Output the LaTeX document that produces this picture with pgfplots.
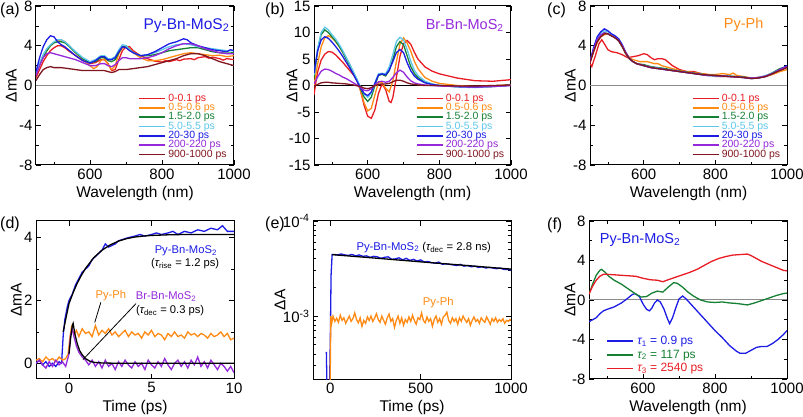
\documentclass[border=0pt]{standalone}
\usepackage{fontspec}
\setmainfont{Liberation Sans}
\usepackage{pgfplots}
\pgfplotsset{compat=1.18}
\definecolor{cR}{RGB}{232,28,36}
\definecolor{cO}{RGB}{255,138,20}
\definecolor{cG}{RGB}{22,128,52}
\definecolor{cC}{RGB}{92,198,235}
\definecolor{cB}{RGB}{28,28,228}
\definecolor{cP}{RGB}{148,40,218}
\definecolor{cD}{RGB}{128,22,32}
\definecolor{zgray}{RGB}{140,140,140}
\newcommand{\fs}[1]{\fontsize{#1}{#1}\selectfont}
\pgfplotsset{
  panel/.style={
    scale only axis, width=198pt, height=159pt,
    tick align=inside, tick pos=both,
    xticklabel pos=lower, yticklabel pos=left,
    major tick length=5pt, minor tick length=3pt,
    tick style={black, line width=0.7pt},
    axis line style={line width=1pt},
    ticklabel style={font=\fs{15}},
    label style={font=\fs{15.5}},
    /pgf/number format/assume math mode=true,
    /pgf/number format/1000 sep={},
    every axis plot/.append style={line width=1.3pt},
    legend image code/.code={\draw[#1, line width=1.7pt] (0pt,0pt) -- (26pt,0pt);},
  },
  ylab/.style={ylabel style={at={(axis description cs:#1,0.5)}, anchor=center}},
  spec/.style={panel, xmin=450, xmax=1000, xtick={600,800,1000}, minor xtick={500,700,900}, xlabel={Wavelength (nm)}, ylabel={ΔmA}},
  tleg/.style={legend cell align=left, legend style={at={(0.515,0.447)}, anchor=north west, draw=none, fill=none, inner sep=0pt, font=\fs{10.5}, row sep=0.4pt, nodes={inner sep=0.4pt, text height=6.8pt, text depth=1.3pt}, /tikz/column 1/.style={column sep=2pt}}},
}
\begin{document}
\begin{tikzpicture}
% (a)
\begin{axis}[spec, ylab=-0.125, at={(36pt,252pt)}, ymin=-8, ymax=8, ytick={-8,-4,0,4,8}, minor ytick={-6,-2,2,6}, tleg]
\addplot[zgray, line width=1pt, forget plot] coordinates {(450,0)(1000,0)};
\addplot[cR] coordinates {(450,0.8)(460,1.6)(470,2.4)(480,3.0)(490,3.5)(500,3.8)(510,4.0)(520,4.0)(530,3.8)(540,3.5)(560,3.0)(580,2.5)(600,2.2)(615,2.3)(630,2.6)(640,2.6)(650,2.2)(660,1.5)(670,1.6)(680,2.6)(690,3.5)(700,3.9)(710,3.9)(720,3.5)(740,3.0)(760,2.7)(780,2.45)(800,2.35)(810,2.5)(820,2.4)(840,2.6)(850,2.5)(860,2.65)(880,2.7)(890,2.6)(900,2.8)(920,2.9)(930,2.75)(940,2.85)(960,2.7)(970,2.55)(980,2.7)(1000,2.6)};
\addlegendentry{\textcolor{cR}{0-0.1 ps}}
\addplot[cO] coordinates {(450,1.1)(460,2.0)(470,2.8)(480,3.5)(490,4.0)(500,4.3)(510,4.5)(520,4.6)(530,4.4)(540,4.1)(560,3.3)(580,2.6)(600,2.0)(610,1.7)(620,1.9)(630,2.5)(640,2.7)(650,2.1)(660,1.6)(670,2.0)(680,3.2)(690,3.8)(700,4.0)(710,3.7)(720,3.3)(740,2.8)(760,2.5)(780,2.5)(800,2.6)(820,2.8)(840,3.0)(860,3.2)(880,3.3)(900,3.2)(920,3.1)(940,3.0)(960,3.05)(980,2.9)(1000,3.0)};
\addlegendentry{\textcolor{cO}{0.5-0.6 ps}}
\addplot[cG] coordinates {(450,1.2)(460,2.1)(470,2.9)(480,3.5)(490,4.0)(500,4.3)(510,4.4)(520,4.4)(530,4.3)(540,4.0)(560,3.3)(580,2.7)(600,2.3)(615,2.4)(630,2.8)(640,2.8)(650,2.5)(660,2.4)(670,2.6)(680,3.3)(690,3.9)(700,4.0)(710,3.6)(720,3.3)(740,3.0)(760,3.0)(780,3.1)(800,3.3)(820,3.5)(840,3.6)(860,3.7)(880,3.8)(900,3.8)(920,3.6)(940,3.4)(960,3.3)(980,3.25)(1000,3.3)};
\addlegendentry{\textcolor{cG}{1.5-2.0 ps}}
\addplot[cC] coordinates {(450,1.3)(460,2.3)(470,3.1)(480,3.7)(490,4.1)(500,4.4)(510,4.6)(520,4.6)(530,4.4)(540,4.1)(560,3.4)(580,2.8)(600,2.4)(615,2.6)(630,3.0)(640,3.0)(650,2.7)(660,2.7)(670,2.9)(680,3.6)(690,4.1)(700,4.0)(710,3.6)(720,3.3)(740,3.0)(760,3.1)(780,3.3)(800,3.6)(820,3.9)(840,4.1)(860,4.2)(880,4.1)(900,3.9)(920,3.8)(940,3.7)(960,3.6)(980,3.5)(1000,3.5)};
\addlegendentry{\textcolor{cC}{5.0-5.5 ps}}
\addplot[cB] coordinates {(450,1.4)(460,2.8)(470,3.9)(480,4.6)(490,5.0)(500,4.9)(510,4.4)(520,4.1)(530,3.9)(540,3.6)(560,3.0)(580,2.5)(600,2.25)(615,2.5)(630,2.9)(640,2.9)(650,2.6)(660,2.6)(670,2.8)(680,3.4)(690,3.9)(700,3.8)(710,3.5)(720,3.3)(740,3.0)(760,3.1)(780,3.4)(800,3.8)(820,4.2)(840,4.4)(860,4.7)(870,4.6)(880,4.3)(900,4.0)(920,3.8)(940,3.6)(960,3.5)(980,3.4)(990,3.6)(1000,3.5)};
\addlegendentry{\textcolor{cB}{20-30 ps}}
\addplot[cP] coordinates {(450,1.0)(460,2.0)(470,2.8)(480,3.2)(490,3.3)(500,3.2)(510,3.1)(520,3.0)(530,2.9)(540,2.8)(560,2.6)(580,2.3)(600,2.0)(615,2.0)(630,2.2)(640,2.2)(650,2.0)(660,1.9)(670,2.1)(680,2.5)(690,2.8)(700,2.8)(710,2.7)(720,2.7)(740,2.7)(760,2.8)(780,3.0)(800,3.3)(820,3.7)(840,4.0)(860,4.2)(880,4.2)(900,4.0)(920,3.7)(940,3.5)(960,3.3)(980,3.2)(1000,3.2)};
\addlegendentry{\textcolor{cP}{200-220 ps}}
\addplot[cD] coordinates {(450,0.5)(460,1.1)(470,1.6)(480,1.8)(490,1.9)(500,1.8)(520,1.8)(540,1.7)(560,1.6)(580,1.5)(600,1.5)(620,1.5)(640,1.5)(650,1.4)(660,1.3)(670,1.4)(680,1.6)(700,1.6)(720,1.7)(740,1.8)(760,1.9)(780,2.1)(800,2.3)(820,2.5)(840,2.7)(860,3.0)(880,3.2)(900,3.2)(920,3.0)(940,2.7)(960,2.4)(980,2.2)(1000,2.0)};
\addlegendentry{\textcolor{cD}{900-1000 ps}}
\node[cB, font=\fs{15.5}] at (rel axis cs:0.76,0.877) {Py-Bn-MoS\textsubscript{2}};
\end{axis}
% (b)
\begin{axis}[spec, ylab=-0.112, at={(314pt,252pt)}, width=197pt, ymin=-15, ymax=15, ytick={-15,-10,-5,0,5,10,15}, tleg]
\addplot[black, line width=0.8pt, forget plot] coordinates {(450,0)(1000,0)};
\addplot[cR] coordinates {(450,-1.8)(455,0.5)(460,2.5)(470,4.8)(480,5.9)(490,6.4)(500,6.3)(510,5.8)(520,5.1)(530,4.4)(540,3.6)(550,2.8)(560,2.0)(570,1.0)(580,-1.0)(590,-3.8)(600,-5.8)(610,-6.2)(620,-4.6)(630,-1.5)(640,0.3)(650,-0.8)(660,-3.0)(665,-3.2)(670,-2.3)(680,1.5)(690,5.5)(700,7.9)(710,8.5)(720,7.8)(730,6.3)(740,5.0)(760,3.5)(780,2.7)(800,2.2)(850,1.4)(900,0.9)(950,0.8)(1000,1.1)};
\addlegendentry{\textcolor{cR}{0-0.1 ps}}
\addplot[cO] coordinates {(450,0.0)(460,4.0)(470,7.3)(480,9.0)(490,9.4)(500,9.0)(510,8.3)(520,7.4)(530,6.3)(540,5.1)(550,3.8)(560,2.5)(570,1.0)(580,-1.0)(590,-3.3)(600,-4.8)(610,-4.3)(620,-1.8)(630,0.6)(640,0.5)(650,-0.5)(660,-1.2)(670,0.8)(680,4.5)(690,7.8)(700,9.0)(710,8.0)(720,6.5)(730,4.6)(740,3.2)(760,1.5)(780,0.8)(800,0.4)(850,0.0)(900,-0.2)(950,-0.1)(1000,0.2)};
\addlegendentry{\textcolor{cO}{0.5-0.6 ps}}
\addplot[cG] coordinates {(450,1.5)(460,6.5)(470,9.6)(480,10.5)(490,10.0)(500,9.2)(510,8.4)(520,7.4)(530,6.3)(540,5.0)(550,3.8)(560,2.4)(570,1.0)(580,-0.6)(590,-2.2)(600,-3.0)(610,-2.2)(620,0.0)(630,1.9)(640,2.1)(650,1.8)(660,2.8)(670,4.9)(680,7.3)(690,8.3)(700,7.7)(710,5.6)(720,3.6)(730,2.3)(740,1.5)(760,0.6)(780,0.2)(800,0.0)(850,-0.2)(900,-0.3)(950,-0.2)(1000,0.1)};
\addlegendentry{\textcolor{cG}{1.5-2.0 ps}}
\addplot[cC] coordinates {(450,2.0)(460,7.0)(470,10.0)(480,11.0)(490,10.5)(500,9.6)(510,8.8)(520,7.8)(530,6.6)(540,5.3)(550,4.0)(560,2.6)(570,1.2)(580,-0.3)(590,-1.6)(600,-2.2)(610,-1.5)(620,0.5)(630,2.2)(640,2.3)(650,2.2)(660,3.5)(670,5.8)(680,8.3)(690,9.1)(700,8.6)(710,6.8)(720,4.6)(730,2.9)(740,1.9)(760,0.8)(780,0.3)(800,0.0)(850,-0.3)(900,-0.4)(950,-0.2)(1000,0.1)};
\addlegendentry{\textcolor{cC}{5.0-5.5 ps}}
\addplot[cB] coordinates {(450,2.3)(460,6.5)(470,8.6)(480,9.2)(490,8.9)(500,8.2)(510,7.4)(520,6.5)(530,5.5)(540,4.4)(550,3.3)(560,2.1)(570,0.8)(580,-0.5)(590,-1.5)(600,-1.9)(610,-1.2)(620,0.4)(630,2.0)(640,2.2)(650,2.0)(660,2.9)(670,4.5)(680,6.2)(690,6.8)(700,6.2)(710,4.3)(720,2.8)(730,1.8)(740,1.2)(760,0.5)(780,0.2)(800,0.0)(850,-0.2)(900,-0.3)(950,-0.1)(1000,0.0)};
\addlegendentry{\textcolor{cB}{20-30 ps}}
\addplot[cP] coordinates {(450,0.3)(460,1.6)(470,2.7)(480,3.1)(490,3.0)(500,2.7)(510,2.3)(520,2.0)(530,1.6)(540,1.3)(550,0.9)(560,0.5)(570,0.1)(580,-0.4)(590,-0.9)(600,-1.0)(610,-0.6)(620,0.1)(630,0.7)(640,0.8)(650,0.6)(660,0.8)(670,1.5)(680,2.4)(690,2.9)(700,2.5)(710,1.6)(720,0.9)(730,0.5)(740,0.3)(760,0.1)(780,0.0)(800,-0.1)(850,-0.2)(900,-0.3)(950,-0.2)(1000,0.0)};
\addlegendentry{\textcolor{cP}{200-220 ps}}
\addplot[cD] coordinates {(450,-0.2)(460,0.2)(470,0.5)(480,0.6)(490,0.6)(500,0.5)(520,0.4)(540,0.3)(560,0.1)(580,-0.2)(590,-0.5)(600,-0.6)(610,-0.4)(620,0.0)(630,0.2)(640,0.3)(650,0.3)(660,0.4)(670,0.7)(680,1.0)(690,1.0)(700,0.8)(710,0.5)(720,0.3)(740,0.1)(760,0.0)(800,0.0)(850,-0.1)(900,-0.1)(950,0.0)(1000,0.1)};
\addlegendentry{\textcolor{cD}{900-1000 ps}}
\node[cP, font=\fs{14.5}] at (rel axis cs:0.765,0.877) {Br-Bn-MoS\textsubscript{2}};
\end{axis}
% (c)
\begin{axis}[spec, ylab=-0.10, at={(590pt,252pt)}, width=197pt, ymin=-8, ymax=8, ytick={-8,-4,0,4,8}, minor ytick={-6,-2,2,6}, tleg]
\addplot[zgray, line width=1pt, forget plot] coordinates {(450,0)(1000,0)};
\addplot[cR] coordinates {(450,2.2)(455,1.9)(465,3.0)(475,4.2)(483,4.6)(490,4.2)(500,3.6)(510,3.4)(525,3.3)(540,3.1)(555,2.8)(570,2.9)(585,3.0)(600,3.2)(610,3.1)(620,2.8)(630,2.6)(640,2.7)(650,2.7)(660,2.6)(670,2.3)(680,2.0)(690,1.8)(700,1.6)(720,1.4)(740,1.4)(760,1.2)(780,1.1)(800,0.9)(820,0.9)(840,0.9)(860,0.9)(880,0.8)(900,0.7)(920,0.8)(940,0.9)(960,1.2)(980,1.5)(1000,1.9)};
\addlegendentry{\textcolor{cR}{0-0.1 ps}}
\addplot[cO] coordinates {(450,2.3)(460,3.4)(470,4.3)(480,4.9)(490,5.1)(500,5.2)(510,5.0)(520,4.8)(530,4.5)(540,4.0)(550,3.3)(560,2.8)(570,2.6)(580,2.5)(590,2.4)(600,2.4)(610,2.4)(620,2.3)(630,2.2)(640,2.2)(650,2.0)(660,1.9)(680,1.7)(700,1.5)(720,1.4)(740,1.3)(760,1.2)(780,1.1)(800,1.1)(820,1.2)(840,1.1)(850,1.25)(860,1.0)(880,0.9)(900,0.75)(920,0.8)(940,0.9)(960,1.1)(980,1.4)(1000,1.6)};
\addlegendentry{\textcolor{cO}{0.5-0.6 ps}}
\addplot[cG] coordinates {(450,2.4)(460,3.6)(470,4.6)(480,5.1)(490,5.3)(500,5.2)(510,5.0)(520,4.8)(530,4.5)(540,3.9)(550,3.2)(560,2.7)(570,2.4)(580,2.2)(600,2.1)(620,1.9)(640,1.8)(660,1.7)(680,1.55)(700,1.45)(720,1.35)(740,1.25)(760,1.15)(780,1.05)(800,1.0)(820,0.95)(840,0.95)(860,0.9)(880,0.85)(900,0.75)(920,0.8)(940,0.95)(960,1.3)(980,1.7)(1000,1.9)};
\addlegendentry{\textcolor{cG}{1.5-2.0 ps}}
\addplot[cC] coordinates {(450,2.4)(460,3.7)(470,4.7)(480,5.3)(490,5.5)(500,5.4)(510,5.1)(520,4.9)(530,4.6)(540,4.0)(550,3.3)(560,2.7)(570,2.4)(580,2.2)(600,2.0)(620,1.85)(640,1.75)(660,1.6)(680,1.5)(700,1.4)(720,1.3)(740,1.2)(760,1.1)(780,1.0)(800,0.95)(820,0.9)(840,0.95)(860,0.85)(880,0.8)(900,0.7)(920,0.8)(940,1.0)(960,1.25)(980,1.6)(1000,1.8)};
\addlegendentry{\textcolor{cC}{5.0-5.5 ps}}
\addplot[cB] coordinates {(450,2.4)(460,3.8)(470,4.9)(480,5.4)(490,5.7)(500,5.5)(510,5.2)(520,5.0)(530,4.7)(540,4.1)(550,3.3)(560,2.7)(570,2.4)(580,2.2)(600,2.0)(620,1.8)(640,1.7)(660,1.6)(680,1.5)(700,1.4)(720,1.3)(740,1.2)(760,1.1)(780,1.0)(800,1.0)(820,0.95)(840,0.9)(860,0.85)(880,0.8)(900,0.7)(920,0.75)(940,0.9)(960,1.2)(980,1.6)(1000,2.0)};
\addlegendentry{\textcolor{cB}{20-30 ps}}
\addplot[cP] coordinates {(450,2.3)(460,3.6)(470,4.6)(480,5.1)(490,5.3)(500,5.2)(510,5.0)(520,4.8)(530,4.5)(540,4.0)(550,3.3)(560,2.7)(570,2.4)(580,2.2)(600,2.0)(620,1.8)(640,1.7)(660,1.6)(680,1.5)(700,1.4)(720,1.3)(740,1.2)(760,1.1)(780,1.0)(800,1.0)(820,0.95)(840,0.9)(860,0.85)(880,0.8)(900,0.75)(920,0.8)(940,0.95)(960,1.2)(980,1.6)(1000,1.9)};
\addlegendentry{\textcolor{cP}{200-220 ps}}
\addplot[cD] coordinates {(450,2.3)(460,3.4)(470,4.4)(480,4.9)(490,5.2)(500,5.2)(510,5.0)(520,4.8)(530,4.5)(540,3.9)(550,3.2)(560,2.7)(570,2.4)(580,2.2)(600,2.0)(620,1.8)(640,1.7)(660,1.6)(680,1.5)(700,1.4)(720,1.3)(740,1.2)(760,1.1)(780,1.05)(800,1.0)(820,0.95)(840,0.9)(860,0.85)(880,0.8)(900,0.7)(920,0.75)(940,0.9)(960,1.2)(980,1.5)(1000,1.8)};
\addlegendentry{\textcolor{cD}{900-1000 ps}}
\node[cO, font=\fs{14.5}] at (rel axis cs:0.78,0.88) {Py-Ph};
\end{axis}
% (d)
\begin{axis}[panel, ylab=-0.10, at={(36pt,38pt)}, height=158pt, xmin=-2, xmax=10, ymin=-0.5, ymax=4.53, xtick={0,5,10}, ytick={0,2,4}, minor ytick={1,3}, xlabel={Time (ps)}, ylabel={ΔmA}]
\addplot[cB] coordinates {(-2,0.0)(-1.8,0.1)(-1.6,-0.05)(-1.4,0.05)(-1.2,-0.1)(-1.0,0.0)(-0.8,-0.1)(-0.6,0.05)(-0.45,0.0)(-0.35,0.9)(-0.25,1.4)(-0.1,1.8)(0,2.0)(0.2,2.2)(0.4,2.5)(0.6,2.7)(0.8,2.9)(1.0,3.0)(1.2,3.1)(1.4,3.3)(1.6,3.4)(1.8,3.5)(2.0,3.6)(2.2,3.8)(2.4,3.7)(2.6,3.75)(2.8,3.8)(3.0,3.9)(3.3,3.95)(3.6,4.0)(4.0,4.05)(4.3,4.1)(4.6,4.05)(5.0,4.1)(5.3,4.15)(5.6,4.1)(6.0,4.15)(6.3,4.2)(6.6,4.1)(7.0,4.2)(7.4,4.15)(7.8,4.25)(8.2,4.2)(8.6,4.3)(9.0,4.25)(9.3,4.38)(9.6,4.2)(10,4.2)};
\addplot[cO] coordinates {(-2,0.1)(-1.8,0.15)(-1.6,0.05)(-1.4,0.2)(-1.2,0.1)(-1.0,0.15)(-0.8,0.05)(-0.6,0.2)(-0.4,0.1)(-0.2,0.15)(-0.05,0.3)(0.05,0.8)(0.15,1.15)(0.3,0.9)(0.45,1.05)(0.6,0.85)(0.8,1.1)(1.0,0.95)(1.2,1.0)(1.4,0.85)(1.6,1.2)(1.8,0.9)(2.0,1.05)(2.2,0.95)(2.4,1.1)(2.6,0.9)(2.8,1.0)(3.0,0.85)(3.2,0.95)(3.4,1.05)(3.6,0.85)(3.8,1.0)(4.0,0.9)(4.2,0.95)(4.4,0.8)(4.6,1.0)(4.8,0.9)(5.0,1.05)(5.2,0.85)(5.4,0.95)(5.6,0.9)(5.8,0.75)(6.0,0.95)(6.2,0.85)(6.4,1.0)(6.6,0.85)(6.8,0.9)(7.0,0.8)(7.2,1.0)(7.4,0.9)(7.6,0.95)(7.8,0.85)(8.0,0.95)(8.2,0.9)(8.4,0.8)(8.6,0.95)(8.8,0.85)(9.0,0.9)(9.2,1.0)(9.4,0.85)(9.6,0.95)(9.8,0.75)(10,0.8)};
\addplot[cP] coordinates {(-2,0.0)(-1.8,0.1)(-1.6,-0.05)(-1.4,-0.15)(-1.2,0.05)(-1.0,-0.1)(-0.8,0.1)(-0.6,-0.05)(-0.4,0.05)(-0.2,-0.1)(0,0.3)(0.1,0.9)(0.2,1.1)(0.3,0.85)(0.45,0.55)(0.6,0.35)(0.8,0.2)(1.0,0.1)(1.2,-0.05)(1.4,0.1)(1.6,-0.1)(1.8,0.05)(2.0,-0.15)(2.2,0.1)(2.4,-0.1)(2.6,0.0)(2.8,-0.2)(3.0,0.05)(3.2,-0.1)(3.4,0.1)(3.6,-0.05)(3.8,-0.15)(4.0,0.05)(4.2,-0.1)(4.4,0.0)(4.6,-0.2)(4.8,0.1)(5.0,-0.05)(5.2,-0.15)(5.4,0.05)(5.6,-0.1)(5.8,0.15)(6.0,-0.05)(6.2,-0.2)(6.4,0.0)(6.6,0.1)(6.8,-0.1)(7.0,0.05)(7.2,-0.15)(7.4,0.1)(7.6,-0.05)(7.8,0.2)(8.0,-0.1)(8.2,0.05)(8.4,-0.15)(8.6,0.1)(8.8,-0.05)(9.0,-0.2)(9.2,0.0)(9.4,-0.1)(9.6,-0.25)(9.8,-0.1)(10,-0.3)};
\addplot[black] coordinates {(-0.35,1.0)(-0.2,1.4)(0,1.9)(0.25,2.25)(0.5,2.55)(0.75,2.8)(1.0,3.02)(1.5,3.36)(2.0,3.6)(2.5,3.77)(3.0,3.89)(3.5,3.97)(4.0,4.02)(4.5,4.05)(5.0,4.07)(6,4.09)(7,4.1)(8,4.1)(10,4.1)};
\addplot[black] coordinates {(0.0,0.3)(0.1,0.8)(0.2,1.2)(0.25,1.27)(0.35,0.95)(0.5,0.62)(0.65,0.4)(0.8,0.27)(1.0,0.15)(1.25,0.07)(1.5,0.03)(2.0,0.01)(3,0)(10,0)};
\draw[black, line width=0.8pt] (axis cs:1.93,1.94) -- (axis cs:1.56,1.3);
\draw[black, line width=0.8pt] (axis cs:4.06,1.9) -- (axis cs:0.85,0.12);
\node[cB, font=\fs{11.2}] at (axis cs:7.08,3.57) {Py-Bn-MoS\textsubscript{2}};
\node[black, font=\fs{11.2}] at (axis cs:7.04,3.17) {({\itshape τ}\textsubscript{rise} = 1.2 ps)};
\node[cO, font=\fs{11.2}] at (axis cs:2.54,2.15) {Py-Ph};
\node[cP, font=\fs{11.2}] at (axis cs:5.88,2.12) {Br-Bn-MoS\textsubscript{2}};
\node[black, font=\fs{11.2}] at (axis cs:6.13,1.69) {({\itshape τ}\textsubscript{dec} = 0.3 ps)};
\end{axis}
% (e)
\begin{axis}[panel, ylab=-0.167, at={(313pt,38pt)}, height=158pt, ymode=log, xmin=-96, xmax=1000, ymin=2.18e-4, ymax=1e-2, xtick={0,500,1000}, ytick={1e-3,1e-2}, yticklabels={10\textsuperscript{-3},10\textsuperscript{-4}}, minor ytick={3e-4,4e-4,5e-4,6e-4,7e-4,8e-4,9e-4,2e-3,3e-3,4e-3,5e-3,6e-3,7e-3,8e-3,9e-3}, xlabel={Time (ps)}, ylabel={ΔA}]
\addplot[cB] coordinates {(-22,4.2e-4)(-18,1.5e-4)(-5,1.5e-4)(0,6e-4)(4,2.7e-3)(10,4.45e-3)(20,4.45e-3)(40,4.4e-3)(60,4.5e-3)(80,4.4e-3)(100,4.35e-3)(120,4.45e-3)(140,4.3e-3)(160,4.4e-3)(180,4.25e-3)(200,4.3e-3)(220,4.15e-3)(240,4.25e-3)(260,4.2e-3)(280,4.05e-3)(300,4.15e-3)(320,4.2e-3)(340,3.95e-3)(360,4.0e-3)(380,4.1e-3)(400,3.9e-3)(420,4.05e-3)(440,3.85e-3)(460,3.95e-3)(480,3.8e-3)(500,3.9e-3)(520,3.7e-3)(540,3.75e-3)(560,3.65e-3)(580,3.6e-3)(600,3.7e-3)(620,3.5e-3)(640,3.55e-3)(660,3.5e-3)(680,3.45e-3)(700,3.4e-3)(720,3.5e-3)(740,3.35e-3)(760,3.4e-3)(780,3.3e-3)(800,3.35e-3)(820,3.25e-3)(840,3.3e-3)(860,3.2e-3)(880,3.25e-3)(900,3.2e-3)(920,3.15e-3)(940,3.2e-3)(960,3.1e-3)(980,3.1e-3)(1000,3.05e-3)};
\addplot[black] coordinates {(10,4.43e-3)(250,4.07e-3)(500,3.72e-3)(750,3.41e-3)(1000,3.12e-3)};
\addplot[cO] coordinates {(-10,1e-4)(-3,1e-4)(3,1.0e-3)(8,8.5e-4)(15,1.0e-3)(25,8.8e-4)(35,9.5e-4)(45,8.6e-4)(55,1.02e-3)(65,9.0e-4)(75,9.6e-4)(85,8.4e-4)(95,9.2e-4)(105,1.0e-3)(115,8.8e-4)(125,9.4e-4)(135,1.08e-3)(145,9.2e-4)(155,8.5e-4)(165,9.6e-4)(175,7.8e-4)(185,9.0e-4)(195,8.4e-4)(205,9.8e-4)(215,9.0e-4)(225,1.0e-3)(235,8.8e-4)(245,9.5e-4)(255,1.06e-3)(265,9.2e-4)(275,8.6e-4)(285,1.0e-3)(295,9.0e-4)(305,8.2e-4)(315,9.6e-4)(325,1.05e-3)(335,8.8e-4)(345,9.4e-4)(355,7.6e-4)(365,9.0e-4)(375,1.0e-3)(385,8.4e-4)(395,9.6e-4)(405,8.0e-4)(415,9.2e-4)(425,8.6e-4)(435,9.8e-4)(445,8.8e-4)(455,1.02e-3)(465,9.0e-4)(475,8.2e-4)(485,9.6e-4)(495,9.2e-4)(505,1.08e-3)(515,9.0e-4)(525,8.5e-4)(535,9.8e-4)(545,8.8e-4)(555,9.4e-4)(565,7.8e-4)(575,9.2e-4)(585,1.0e-3)(595,8.6e-4)(605,9.4e-4)(615,8.2e-4)(625,9.8e-4)(635,1.02e-3)(645,1.1e-3)(655,9.0e-4)(665,8.4e-4)(675,9.6e-4)(685,8.8e-4)(695,9.4e-4)(705,8.2e-4)(715,9.6e-4)(725,8.8e-4)(735,1.0e-3)(745,9.2e-4)(755,8.6e-4)(765,9.4e-4)(775,8.0e-4)(785,9.0e-4)(795,9.8e-4)(805,8.8e-4)(815,9.2e-4)(825,8.4e-4)(835,9.6e-4)(845,9.0e-4)(855,8.6e-4)(865,9.8e-4)(875,9.0e-4)(885,8.2e-4)(895,9.4e-4)(905,8.8e-4)(915,9.6e-4)(925,8.6e-4)(935,9.2e-4)(945,8.8e-4)(955,9.4e-4)(965,8.4e-4)(975,9.0e-4)(985,8.8e-4)(995,9.2e-4)(1000,9.0e-4)};
\node[font=\fs{11.3}] at (axis cs:517,5.3e-3) {\textcolor{cB}{Py-Bn-MoS\textsubscript{2}} ({\itshape τ}\textsubscript{dec} = 2.8 ns)};
\node[cO, font=\fs{11.3}] at (axis cs:597,1.39e-3) {Py-Ph};
\end{axis}
% (f)
\begin{axis}[spec, ylab=-0.096, at={(589pt,38pt)}, height=158pt, ymin=-8, ymax=8, ytick={-8,-4,0,4,8}, minor ytick={-6,-2,2,6}, legend cell align=left, legend style={at={(0.086,0.28)}, anchor=north west, draw=none, fill=none, inner sep=0pt, font=\fs{12}, row sep=1.2pt, nodes={inner sep=0.5pt, text height=9pt, text depth=2.5pt}, /tikz/column 1/.style={column sep=3pt}}]
\addplot[zgray, line width=1pt, forget plot] coordinates {(450,0)(1000,0)};
\addplot[cB] coordinates {(450,-2.2)(460,-2.0)(470,-1.8)(480,-1.4)(490,-1.1)(500,-0.95)(520,-0.7)(540,-0.3)(555,0.1)(570,0.55)(578,0.65)(590,0.35)(600,-0.4)(610,-0.95)(618,-1.1)(625,-0.8)(632,-0.3)(640,0.0)(648,-0.2)(658,-0.9)(668,-1.9)(674,-2.4)(682,-1.8)(692,-0.7)(700,0.1)(710,0.4)(720,0.1)(730,-0.3)(745,-0.9)(760,-1.5)(780,-2.3)(800,-3.1)(820,-3.8)(840,-4.6)(860,-5.2)(870,-5.4)(885,-5.4)(900,-5.1)(915,-4.8)(930,-4.7)(945,-4.7)(960,-4.4)(975,-4.0)(990,-3.5)(1000,-3.1)};
\addlegendentry{\textcolor{cB}{{\itshape τ}\textsubscript{1} = 0.9 ps}}
\addplot[cG] coordinates {(450,0.6)(460,1.6)(470,2.5)(480,3.0)(485,3.1)(495,2.8)(505,2.4)(520,2.0)(540,1.6)(560,1.1)(580,0.6)(595,0.3)(610,0.35)(625,0.7)(640,0.9)(655,0.8)(670,1.3)(685,1.75)(695,1.7)(710,1.3)(725,0.8)(740,0.4)(760,0.0)(780,-0.2)(800,-0.25)(820,-0.2)(840,-0.3)(860,-0.35)(880,-0.45)(890,-0.5)(910,-0.3)(930,-0.05)(950,0.2)(970,0.45)(990,0.65)(1000,0.7)};
\addlegendentry{\textcolor{cG}{{\itshape τ}\textsubscript{2} = 117 ps}}
\addplot[cR] coordinates {(450,0.6)(460,1.4)(470,2.0)(480,2.4)(490,2.6)(500,2.6)(520,2.55)(540,2.5)(560,2.45)(580,2.4)(600,2.2)(620,2.05)(640,2.0)(655,1.85)(670,2.05)(690,2.3)(710,2.55)(730,2.8)(750,3.1)(770,3.5)(790,3.9)(810,4.2)(830,4.4)(850,4.55)(870,4.6)(890,4.65)(900,4.5)(915,4.2)(930,3.9)(950,3.6)(970,3.3)(990,3.0)(1000,2.95)};
\addlegendentry{\textcolor{cR}{{\itshape τ}\textsubscript{3} = 2540 ps}}
\node[cB, font=\fs{14.5}] at (rel axis cs:0.258,0.88) {Py-Bn-MoS\textsubscript{2}};
\end{axis}
\node[anchor=north west, inner sep=0pt, font=\fs{16}] at (0pt,414pt) {(a)};
\node[anchor=north west, inner sep=0pt, font=\fs{16}] at (265pt,414pt) {(b)};
\node[anchor=north west, inner sep=0pt, font=\fs{16}] at (547pt,414pt) {(c)};
\node[anchor=north west, inner sep=0pt, font=\fs{16}] at (0pt,200pt) {(d)};
\node[anchor=north west, inner sep=0pt, font=\fs{16}] at (265pt,200pt) {(e)};
\node[anchor=north west, inner sep=0pt, font=\fs{16}] at (547pt,199pt) {(f)};
\pgfresetboundingbox
\path[use as bounding box] (0pt,0pt) rectangle (803pt,417pt);
\end{tikzpicture}
\end{document}
